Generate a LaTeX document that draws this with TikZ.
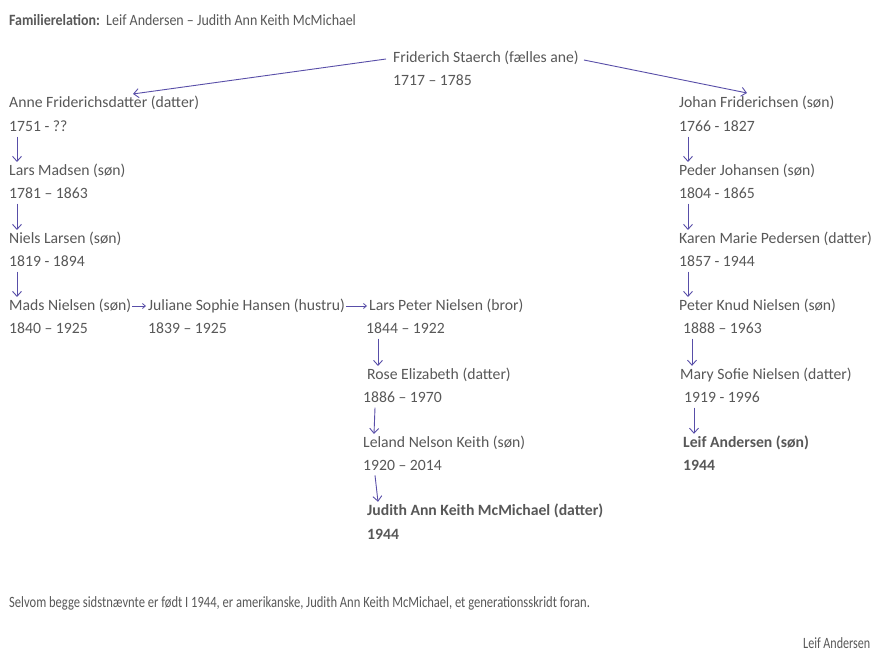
\documentclass[tikz,border=0pt]{standalone}
\usepackage{fontspec}
\setmainfont{Carlito}
\newfontfamily\titlef[FakeStretch=0.89,Ligatures=TeX]{Carlito}
\newfontfamily\footf[FakeStretch=0.80,Ligatures=TeX]{Carlito}
\newfontfamily\sigf[FakeStretch=0.77,Ligatures=TeX]{Carlito}
\usetikzlibrary{arrows.meta}
\definecolor{txt}{HTML}{585858}
\definecolor{ink}{RGB}{88,78,168}
\begin{document}
\begin{tikzpicture}[x=1pt,y=-1pt,
  every node/.style={inner sep=0pt,anchor=west,text=txt,font=\fontsize{15.7}{18}\selectfont},
  bld/.style={font=\fontsize{15.7}{18}\selectfont\bfseries},
  arr/.style={draw=ink,line width=0.9pt,-{Straight Barb[length=5pt,width=9pt]}},
  sarr/.style={draw=ink,line width=0.8pt,-{Straight Barb[length=3pt,width=5pt]}}]
\useasboundingbox[fill=white] (0,0) rectangle (880,653);
% title
\node[font=\fontsize{15.7}{18}\selectfont\titlef] (title) at (9,20) {\textbf{Familierelation:}\ \ Leif Andersen – Judith Ann Keith McMichael};
% common ancestor
\node (fs) at (393,58) {Friderich Staerch (fælles ane)};
\node (fsd) at (393,80) {1717 – 1785};
% left column
\node (an) at (9,103) {Anne Friderichsdatter (datter)};
\node (and) at (9,126) {1751 - ??};
\node (lm) at (9,171) {Lars Madsen (søn)};
\node (lmd) at (9,193) {1781 – 1863};
\node (nl) at (9,239) {Niels Larsen (søn)};
\node (nld) at (9,261) {1819 - 1894};
\node (mn) at (9,306) {Mads Nielsen (søn)};
\node (mnd) at (9,328) {1840 – 1925};
\node (js) at (148,306) {Juliane Sophie Hansen (hustru)};
\node (jsd) at (148,328) {1839 – 1925};
\node (lp) at (369,306) {Lars Peter Nielsen (bror)};
\node (lpd) at (366,328) {1844 – 1922};
\node (re) at (367,375) {Rose Elizabeth (datter)};
\node (red) at (363,397) {1886 – 1970};
\node (ln) at (363,443) {Leland Nelson Keith (søn)};
\node (lnd) at (363,465) {1920 – 2014};
\node[bld] (ja) at (367,511) {Judith Ann Keith McMichael (datter)};
\node[bld] (jad) at (367,534) {1944};
% right column
\node (jf) at (679,103) {Johan Friderichsen (søn)};
\node (jfd) at (679,126) {1766 - 1827};
\node (pj) at (679,171) {Peder Johansen (søn)};
\node (pjd) at (679,193) {1804 - 1865};
\node (km) at (679,239) {Karen Marie Pedersen (datter)};
\node (kmd) at (679,261) {1857 - 1944};
\node (pk) at (679,306) {Peter Knud Nielsen (søn)};
\node (pkd) at (683,328) {1888 – 1963};
\node (ms) at (680,375) {Mary Sofie Nielsen (datter)};
\node (msd) at (684,397) {1919 - 1996};
\node[bld] (la) at (683,443) {Leif Andersen (søn)};
\node[bld] (lad) at (683,465) {1944};
% footer
\node[font=\fontsize{15.7}{18}\selectfont\footf] (foot) at (9,603) {Selvom begge sidstnævnte er født I 1944, er amerikanske, Judith Ann Keith McMichael, et generationsskridt foran.};
\node[font=\fontsize{15.7}{18}\selectfont\sigf] (sig) at (803,643) {Leif Andersen};
% connectors
\draw[arr] ([xshift=-7pt,yshift=-1pt]fs.west) -- ([xshift=124pt,yshift=2pt]an.north west);
\draw[arr] ([xshift=5pt,yshift=-2pt]fs.east) -- ([xshift=68pt,yshift=3pt]jf.north west);
\foreach \a/\b in {and/lm,lmd/nl,nld/mn}{
  \draw[arr] ([xshift=8pt,yshift=-5pt]\a.south west) -- ([xshift=8pt,yshift=2pt]\b.north west);
}
\foreach \a/\b in {lpd/re,red/ln,lnd/ja}{
  \draw[arr] ([xshift=12pt,yshift=-5pt]\a.south west) -- ([xshift=11pt,yshift=2pt]\b.north west);
}
\draw[arr] ([xshift=9pt,yshift=-5pt]jfd.south west) -- ([xshift=9pt,yshift=2pt]pj.north west);
\draw[arr] ([xshift=9pt,yshift=-5pt]pjd.south west) -- ([xshift=9pt,yshift=2pt]km.north west);
\draw[arr] ([xshift=9pt,yshift=-5pt]kmd.south west) -- ([xshift=9pt,yshift=2pt]pk.north west);
\draw[arr] ([xshift=9pt,yshift=-5pt]pkd.south west) -- ([xshift=12pt,yshift=2pt]ms.north west);
\draw[arr] ([xshift=10pt,yshift=-5pt]msd.south west) -- ([xshift=11pt,yshift=2pt]la.north west);
\draw[sarr] ([xshift=1pt]mn.east) -- ([xshift=-2pt]js.west);
\draw[sarr] ([xshift=1pt]js.east) -- ([xshift=-2pt]lp.west);
\end{tikzpicture}
\end{document}
